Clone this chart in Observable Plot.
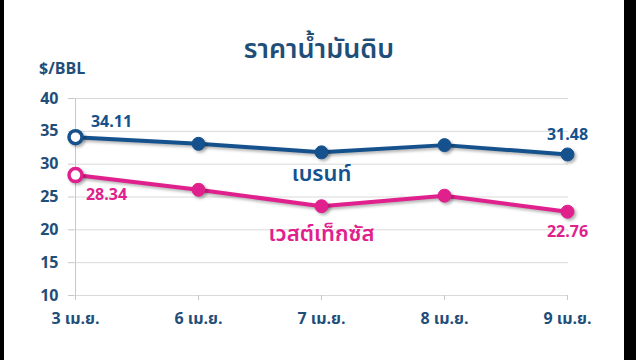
<!DOCTYPE html>
<html>
<head>
<meta charset="utf-8">
<script src="https://cdn.jsdelivr.net/npm/d3@7"></script>
<script src="https://cdn.jsdelivr.net/npm/@observablehq/plot@0.6"></script>
<style>
  html, body { margin: 0; padding: 0; }
  body { background: #000; width: 636px; height: 360px; overflow: hidden; position: relative; }
  #wrap { position: absolute; left: 4px; top: 0; width: 620px; height: 360px; background: #fff;
          font-family: "Noto Sans Thai", Tahoma, "Open Sans", "DejaVu Sans", sans-serif; }
  #head { position: relative; height: 80px; }
  #title { position: absolute; left: 0; width: 630px; top: 35px; text-align: center;
           font-size: 27px; font-weight: 600; color: #1f4e79; line-height: 30px; }
  #unit { position: absolute; left: 35px; top: 58px; font-size: 16px; font-weight: bold;
          color: #1f4e79; line-height: 20px; font-family: "Open Sans", sans-serif; }
  svg { display: block; }
</style>
</head>
<body>
<div id="wrap">
  <div id="head">
    <div id="title"></div>
    <div id="unit"></div>
  </div>
  <div id="chart"></div>
</div>
<script>
const titleText = "ราคาน้ำมันดิบ";
const unitText = "$/BBL";
const dates = ["3 เม.ย.", "6 เม.ย.", "7 เม.ย.", "8 เม.ย.", "9 เม.ย."];
const brent = [34.11, 33.1, 31.8, 32.9, 31.48];
const wti = [28.34, 26.1, 23.6, 25.2, 22.76];
const yTicks = [10, 15, 20, 25, 30, 35, 40];
const seriesNames = ["เบรนท์", "เวสต์เท็กซัส"];
const seriesColors = ["#15528d", "#e0208c"];

document.getElementById("title").textContent = titleText;
document.getElementById("unit").textContent = unitText;

const rows = [];
[brent, wti].forEach((vals, s) => {
  vals.forEach((v, i) => rows.push({date: dates[i], value: v, series: seriesNames[s], idx: i}));
});
const brentRows = rows.filter(d => d.series === seriesNames[0]);
const wtiRows = rows.filter(d => d.series === seriesNames[1]);
const first = i => r => r.idx === i;
const last = dates.length - 1;

const numFont = "Open Sans, sans-serif";
const thaiFont = "'Noto Sans Thai', Tahoma, 'Open Sans', sans-serif";
const axisColor = "#1f4e79";

const chart = Plot.plot({
  width: 620,
  height: 280,
  marginTop: 18,
  marginBottom: 65,
  marginLeft: 70,
  marginRight: 56,
  style: {background: "#fff", fontFamily: numFont},
  x: {type: "point", domain: dates, padding: 0, axis: null, label: null},
  y: {domain: [10, 40], axis: null, label: null},
  marks: [
    Plot.gridY(yTicks, {stroke: "#d9d9d9", strokeOpacity: 1, strokeWidth: 1}),
    Plot.ruleX([dates[0]], {y1: 10, y2: 40, stroke: "#c8c8c8"}),
    Plot.axisY(yTicks, {tickSize: 6, tickPadding: 10, fontSize: 16, fontWeight: "bold", label: null,
      fill: axisColor, stroke: "#c8c8c8", fontFamily: numFont}),
    Plot.axisX(dates, {tickSize: 5, tickPadding: 12, fontSize: 16, fontWeight: "bold", label: null,
      fill: axisColor, stroke: "#c8c8c8", fontFamily: thaiFont}),
    Plot.line(brentRows, {x: "date", y: "value", stroke: seriesColors[0], strokeWidth: 4}),
    Plot.line(wtiRows, {x: "date", y: "value", stroke: seriesColors[1], strokeWidth: 4}),
    Plot.dot(brentRows.filter(d => d.idx > 0), {x: "date", y: "value", r: 6.5, fill: seriesColors[0], stroke: seriesColors[0], strokeWidth: 1}),
    Plot.dot(wtiRows.filter(d => d.idx > 0), {x: "date", y: "value", r: 6.5, fill: seriesColors[1], stroke: seriesColors[1], strokeWidth: 1}),
    Plot.dot(brentRows.filter(first(0)), {x: "date", y: "value", r: 6.5, fill: "#fff", stroke: seriesColors[0], strokeWidth: 3.5}),
    Plot.dot(wtiRows.filter(first(0)), {x: "date", y: "value", r: 6.5, fill: "#fff", stroke: seriesColors[1], strokeWidth: 3.5}),
    // value labels
    Plot.text(brentRows.filter(first(0)), {x: "date", y: "value", text: d => d.value.toFixed(2), dx: 36, dy: -15, fill: seriesColors[0], fontSize: 16, fontWeight: "bold"}),
    Plot.text(brentRows.filter(first(last)), {x: "date", y: "value", text: d => d.value.toFixed(2), dx: 0, dy: -20, fill: seriesColors[0], fontSize: 16, fontWeight: "bold"}),
    Plot.text(wtiRows.filter(first(0)), {x: "date", y: "value", text: d => d.value.toFixed(2), dx: 31, dy: 20, fill: seriesColors[1], fontSize: 16, fontWeight: "bold"}),
    Plot.text(wtiRows.filter(first(last)), {x: "date", y: "value", text: d => d.value.toFixed(2), dx: 0, dy: 20, fill: seriesColors[1], fontSize: 16, fontWeight: "bold"}),
    // series name labels
    Plot.text(brentRows.filter(first(2)), {x: "date", y: "value", text: "series", dy: 22, fill: seriesColors[0], fontSize: 22, fontWeight: 600, fontFamily: thaiFont}),
    Plot.text(wtiRows.filter(first(2)), {x: "date", y: "value", text: "series", dy: 28, fill: seriesColors[1], fontSize: 22, fontWeight: 600, fontFamily: thaiFont})
  ]
});
document.getElementById("chart").appendChild(chart);
d3.select(chart).selectAll('g[aria-label="line"], g[aria-label="dot"]')
  .style("filter", "drop-shadow(2px 2px 1.5px rgba(0,0,0,0.3))");
</script>
</body>
</html>
